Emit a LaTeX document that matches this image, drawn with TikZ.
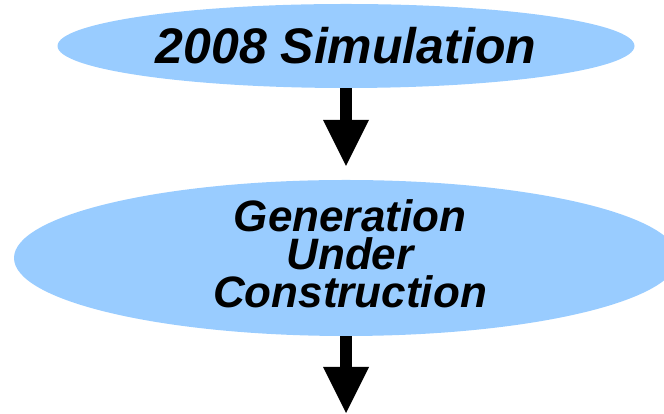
\documentclass[tikz,border=0pt]{standalone}
\usepackage{fontspec}
\setmainfont{Liberation Sans}
\usetikzlibrary{shapes.geometric,arrows.meta}
\definecolor{paleblue}{RGB}{153,204,255}
\begin{document}
\begin{tikzpicture}[x=1pt,y=1pt,
  stage/.style={ellipse, fill=paleblue, draw=none, inner sep=0pt},
  flow/.style={line width=12.5pt, draw=black,
    -{Triangle[width=46pt,length=46pt,line width=0pt]}},
  caption/.style={font=\bfseries\itshape, text=black, align=center, inner sep=0pt}]
\useasboundingbox (0,0) rectangle (664,414);
\clip (0,0) rectangle (664,414);

% process stages
\node[stage, caption, minimum width=577pt, minimum height=84pt,
      font=\fontsize{50}{60}\selectfont\bfseries\itshape] (sim) at (346,368) {2008 Simulation};
\node[stage, minimum width=664pt, minimum height=156pt] (gen) at (346,156) {};
\node[caption, font=\fontsize{44}{38}\selectfont\bfseries\itshape] (genlabel) at (350,160)
  {Generation\\Under\\Construction};

% flow arrows
\coordinate (next) at (346,1);
\draw[flow, shorten >=14pt] (sim.south) -- (gen.north);
\draw[flow] (gen.south) -- (next);
\end{tikzpicture}
\end{document}
